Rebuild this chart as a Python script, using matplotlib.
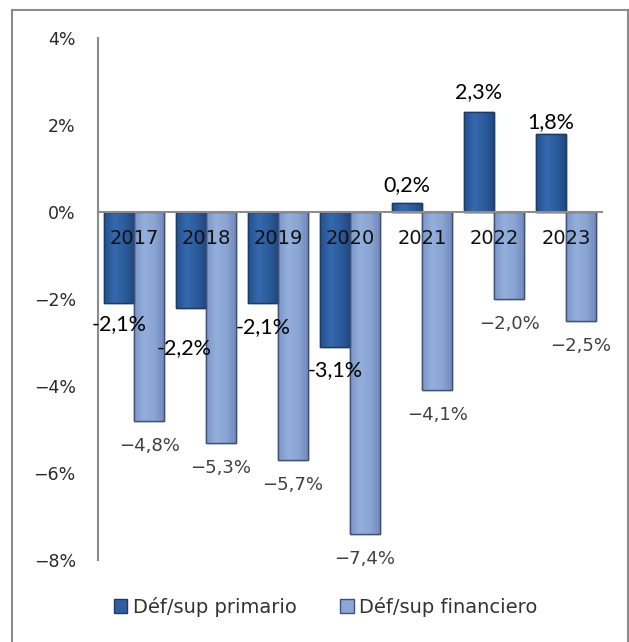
import numpy as np
import matplotlib
matplotlib.use('Agg')
import matplotlib.pyplot as plt
from matplotlib.patches import Rectangle
from matplotlib.colors import LinearSegmentedColormap

# Data
years = ['2017', '2018', '2019', '2020', '2021', '2022', '2023']
primario = [-2.1, -2.2, -2.1, -3.1, 0.2, 2.3, 1.8]
financiero = [-4.8, -5.3, -5.7, -7.4, -4.1, -2.0, -2.5]
series_names = ['Déf/sup primario', 'Déf/sup financiero']
y_ticks = [-8, -6, -4, -2, 0, 2, 4]

# label offsets (points) for primary labels, some are pushed to avoid overlap
prim_off = [(0, -15), (-5, -29), (0, -17), (0, -17), (0, 13), (0, 14), (0, 8)]

wide = 'DejaVu Sans'
calib = 'Lato'

fig = plt.figure(figsize=(6.29, 6.42), dpi=100)
ax = fig.add_axes([98/629, 1-560/642, 504/629, 522/642])

x = np.arange(len(years))
w = 0.42
b1 = ax.bar(x - w/2, primario, w, color='#2f5f9f', edgecolor='#1c3a66', linewidth=1.0, zorder=3)
b2 = ax.bar(x + w/2, financiero, w, color='#8ca7d5', edgecolor='#3f5178', linewidth=1.0, zorder=3)

# soft horizontal shading on each bar
cm1 = LinearSegmentedColormap.from_list('p', ['#24508c', '#3469ae', '#2c5c9c', '#1f4780'])
cm2 = LinearSegmentedColormap.from_list('f', ['#7d97c6', '#93afdc', '#8aa5d4', '#7088b8'])
grad = np.linspace(0, 1, 64).reshape(1, -1)
for bars, cm in [(b1, cm1), (b2, cm2)]:
    for r in bars:
        x0, y0 = r.get_x(), r.get_y()
        x1, y1 = x0 + r.get_width(), y0 + r.get_height()
        im = ax.imshow(grad, cmap=cm, aspect='auto', extent=(x0, x1, min(y0, y1), max(y0, y1)),
                       zorder=3.1, interpolation='bilinear')
        im.set_clip_path(r)
        ax.add_patch(Rectangle((x0, y0), r.get_width(), r.get_height(), fill=False,
                               edgecolor=r.get_edgecolor(), linewidth=1.0, zorder=3.2))

ax.set_xlim(-0.5, len(years) - 0.5)
ax.set_ylim(-8, 4)
ax.set_yticks(y_ticks)
ax.set_yticklabels([('−' if v < 0 else '') + f'{abs(v)}%' for v in y_ticks],
                   family=wide, fontsize=12.5, color='#2a2a2a')
ax.tick_params(axis='y', length=0, pad=16)
ax.set_xticks([])

# year labels drawn on top of the bars
for i, yr in enumerate(years):
    ax.annotate(yr, (x[i], 0), xytext=(0, -19), textcoords='offset points',
                ha='center', va='center', family=wide, fontsize=14, color='#111111', zorder=6)

for s in ['top', 'right']:
    ax.spines[s].set_visible(False)
ax.spines['bottom'].set_position(('data', 0))
ax.spines['bottom'].set_color('#8c8c8c')
ax.spines['bottom'].set_linewidth(1.5)
ax.spines['bottom'].set_zorder(4)
ax.spines['left'].set_color('#8c8c8c')
ax.spines['left'].set_linewidth(1.5)

# labels primary
for i, v in enumerate(primario):
    txt = f'{v:.1f}%'.replace('.', ',')
    ax.annotate(txt, (x[i] - w/2, v), xytext=prim_off[i], textcoords='offset points',
                ha='center', va='center', family=calib, fontsize=15.5, color='#000000', zorder=5)

# labels financiero
for i, v in enumerate(financiero):
    txt = '−' + f'{abs(v):.1f}%'.replace('.', ',')
    ax.annotate(txt, (x[i] + w/2, v), xytext=(0, -18), textcoords='offset points',
                ha='center', va='center', family=wide, fontsize=13, color='#404040', zorder=5)

leg = fig.legend([b1, b2], series_names, loc='center', bbox_to_anchor=(0.518, 1-607/642),
                 ncol=2, frameon=False, handlelength=0.7, handleheight=0.7,
                 handletextpad=0.3, columnspacing=2.2,
                 prop={'family': wide, 'size': 14})
for t in leg.get_texts():
    t.set_color('#333333')

# outer border
fig.patches.append(Rectangle((12/629, -0.05), 616/629, 1.05 - 10/642, transform=fig.transFigure,
                             fill=False, edgecolor='#8c8c8c', linewidth=1.5))

fig.savefig('out.png', dpi=100)
